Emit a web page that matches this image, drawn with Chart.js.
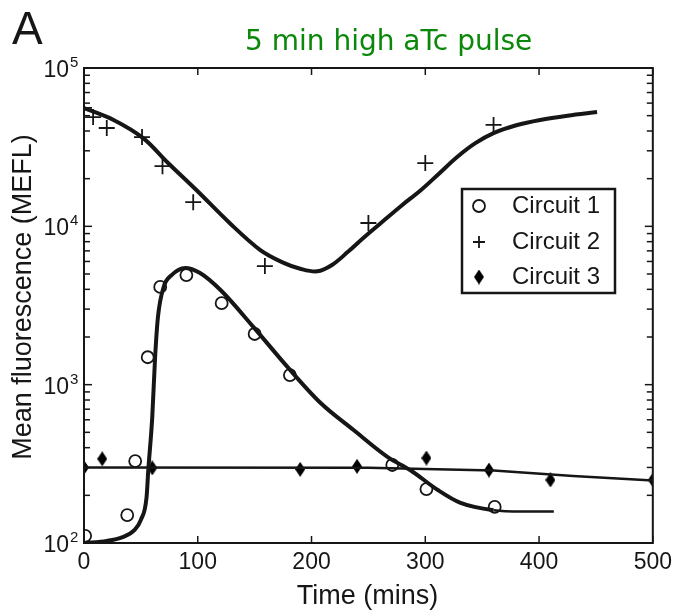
<!DOCTYPE html>
<html>
<head>
<meta charset="utf-8">
<title>5 min high aTc pulse</title>
<script src="https://cdn.jsdelivr.net/npm/chart.js@4/dist/chart.umd.min.js"></script>
<style>
  html, body { margin: 0; padding: 0; background: #fff; }
  #wrap { width: 678px; height: 613px; position: relative; }
</style>
</head>
<body>
<div id="wrap"><canvas id="chart"></canvas></div>
<script>
// ---- data (time in mins, fluorescence in MEFL) ----
const c1Time  = [1, 38, 45, 56, 67, 90, 121, 150, 181, 271, 301, 361];
const c1Value = [111, 150, 329, 1490, 4140, 4920, 3270, 2090, 1150, 311, 219, 169];
const c1FitTime  = [0, 20, 34, 44, 50, 55, 56.5, 60, 62.5, 65, 70, 77, 89, 102, 120, 149, 179, 208, 237, 267, 287, 311, 331, 360, 385, 413];
const c1FitValue = [100, 103, 109, 120, 140, 195, 288, 624, 1490, 2670, 4140, 4920, 5460, 5070, 3960, 2310, 1290, 766, 517, 349, 288, 216, 179, 161, 158, 158];

const c2Time  = [0, 8, 20, 51, 69, 96, 159, 250, 300, 360];
const c2Value = [56000, 49000, 41800, 36600, 24000, 14200, 5610, 10500, 25100, 43700];
const c2FitTime  = [0, 26, 52, 73, 99, 128, 155, 175, 190, 205, 218, 232, 246, 261, 279, 296, 312, 328, 344, 360, 380, 401, 425, 451];
const c2FitValue = [55900, 47000, 36100, 25500, 16900, 10500, 7080, 5900, 5400, 5200, 5700, 6900, 8500, 10500, 13500, 16900, 21500, 27400, 33500, 38800, 43500, 47000, 50000, 52700];

const c3Time  = [0, 16, 60, 190, 240, 301, 356, 410, 500];
const c3Value = [300, 340, 298, 292, 305, 344, 289, 250, 250];
const c3FitTime  = [0, 250, 360, 430, 500];
const c3FitValue = [300, 299, 287, 265, 248];

const seriesNames = ['Circuit 1', 'Circuit 2', 'Circuit 3'];
const xTicks = [0, 100, 200, 300, 400, 500];
const yExponents = [2, 3, 4, 5];

const pts = (xs, ys) => xs.map((t, i) => ({ x: t, y: ys[i] }));

// narrow filled diamond used for circuit 3
function makeDiamond(w, h) {
    const c = document.createElement('canvas');
    c.width = w; c.height = h;
    const g = c.getContext('2d');
    g.fillStyle = '#000';
    g.beginPath();
    g.moveTo(w / 2, 0); g.lineTo(w, h / 2); g.lineTo(w / 2, h); g.lineTo(0, h / 2);
    g.closePath(); g.fill();
    return c;
}
const diamond = makeDiamond(10, 15);

const INK = '#161616';
const SANS = '"Liberation Sans", Arial, sans-serif';

const decor = {
    id: 'decor',
    afterDraw(chart) {
        const { ctx, chartArea: a, scales: { x, y } } = chart;
        ctx.save();
        ctx.strokeStyle = INK;

        // frame
        ctx.lineWidth = 2;
        ctx.strokeRect(a.left, a.top, a.right - a.left, a.bottom - a.top);

        // inward ticks
        ctx.lineWidth = 1.5;
        const seg = (x1, y1, x2, y2) => { ctx.beginPath(); ctx.moveTo(x1, y1); ctx.lineTo(x2, y2); ctx.stroke(); };
        xTicks.forEach(v => {
            const px = x.getPixelForValue(v);
            seg(px, a.bottom, px, a.bottom - 7);
            seg(px, a.top, px, a.top + 7);
        });
        for (let e = yExponents[0]; e < yExponents[yExponents.length - 1]; e++) {
            for (let m = 1; m <= 9; m++) {
                const py = y.getPixelForValue(m * Math.pow(10, e));
                const len = m === 1 ? 8 : 6;
                seg(a.left, py, a.left + len, py);
                seg(a.right, py, a.right - len, py);
            }
        }

        // y tick labels with superscript exponent
        ctx.fillStyle = INK;
        yExponents.forEach(e => {
            const py = y.getPixelForValue(Math.pow(10, e));
            ctx.font = '23px ' + SANS;
            ctx.textAlign = 'right'; ctx.textBaseline = 'alphabetic';
            ctx.fillText('10', a.left - 15, py + 9);
            ctx.font = '15px ' + SANS;
            ctx.textAlign = 'left';
            ctx.fillText(String(e), a.left - 14, py - 1);
        });

        // axis titles
        ctx.font = '27px ' + SANS;
        ctx.textAlign = 'center'; ctx.textBaseline = 'middle';
        ctx.fillText('Time (mins)', (a.left + a.right) / 2 - 1, 597);
        ctx.save();
        ctx.translate(24, 297);
        ctx.rotate(-Math.PI / 2);
        ctx.fillText('Mean fluorescence (MEFL)', 0, 0);
        ctx.restore();

        // panel letter and heading
        ctx.textAlign = 'left'; ctx.textBaseline = 'alphabetic';
        ctx.font = '46px ' + SANS;
        ctx.fillText('A', 12, 44);
        ctx.fillStyle = '#0a880a';
        ctx.font = '28px "DejaVu Sans", Verdana, sans-serif';
        ctx.fillText('5 min high aTc pulse', 245, 50);

        // legend box
        const lx = 462, ly = 189, lw = 153, lh = 104;
        ctx.fillStyle = '#fff';
        ctx.fillRect(lx, ly, lw, lh);
        ctx.lineWidth = 2.5;
        ctx.strokeRect(lx, ly, lw, lh);
        const rows = [206, 242, 277];
        const markerSets = chart.data.datasets.filter(d => d.isMarker);
        markerSets.forEach((d, i) => {
            ctx.strokeStyle = INK; ctx.fillStyle = 'rgba(0,0,0,0)';
            ctx.lineWidth = d.pointBorderWidth;
            Chart.helpers.drawPoint(ctx, {
                pointStyle: d.pointStyle, radius: i === 1 ? 6 : d.pointRadius,
                rotation: 0, borderWidth: d.pointBorderWidth
            }, lx + 17, rows[i]);
            ctx.fillStyle = INK;
            ctx.font = '24px ' + SANS;
            ctx.textAlign = 'left'; ctx.textBaseline = 'middle';
            ctx.fillText(d.label, lx + 50, rows[i]);
        });
        ctx.restore();
    }
};

const fitLine = (xs, ys, w, extra) => Object.assign({
    label: '', data: pts(xs, ys), showLine: true, pointRadius: 0,
    borderColor: INK, borderWidth: w, cubicInterpolationMode: 'monotone', fill: false
}, extra || {});

new Chart(document.getElementById('chart'), {
    type: 'scatter',
    data: {
        datasets: [
            fitLine(c1FitTime, c1FitValue, 4, {
                segment: { borderWidth: c => (c.p0.parsed.x >= 355 ? 2.5 : 4) }
            }),
            fitLine(c2FitTime, c2FitValue, 4, { cubicInterpolationMode: 'default', tension: 0.35 }),
            fitLine(c3FitTime, c3FitValue, 2.5, { cubicInterpolationMode: 'default', tension: 0 }),
            { label: seriesNames[0], isMarker: true, data: pts(c1Time, c1Value), pointStyle: 'circle',
              pointRadius: 6, pointBorderWidth: 1.8, pointBorderColor: INK, pointBackgroundColor: 'rgba(0,0,0,0)' },
            { label: seriesNames[1], isMarker: true, data: pts(c2Time, c2Value), pointStyle: 'cross',
              pointRadius: 8, pointBorderWidth: 1.8, pointBorderColor: INK, pointBackgroundColor: INK },
            { label: seriesNames[2], isMarker: true, data: pts(c3Time, c3Value), pointStyle: diamond,
              pointRadius: 6, pointBorderWidth: 1, pointBorderColor: INK, pointBackgroundColor: INK }
        ]
    },
    options: {
        responsive: true,
        maintainAspectRatio: false,
        animation: false,
        events: [],
        layout: { padding: { top: 68, right: 25, left: 0, bottom: 0 } },
        plugins: { legend: { display: false }, tooltip: { enabled: false }, title: { display: false } },
        scales: {
            x: {
                type: 'linear', min: 0, max: 500,
                afterBuildTicks: s => { s.ticks = xTicks.map(v => ({ value: v })); },
                afterFit: s => { s.height = 70; },
                grid: { display: false, drawTicks: false },
                border: { display: false },
                ticks: { color: INK, padding: 6, font: { family: SANS, size: 23 }, maxRotation: 0 }
            },
            y: {
                type: 'logarithmic', min: 100, max: 100000,
                afterFit: s => { s.width = 84; },
                grid: { display: false, drawTicks: false },
                border: { display: false },
                ticks: { display: false }
            }
        }
    },
    plugins: [decor]
});
</script>
</body>
</html>
